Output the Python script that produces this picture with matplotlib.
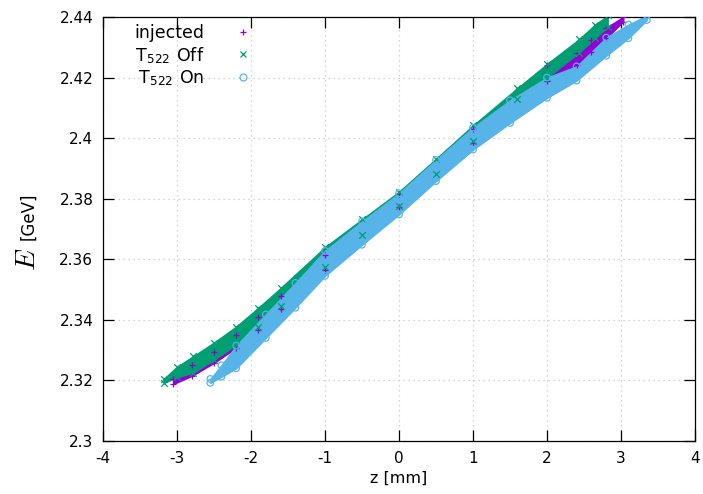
import matplotlib
matplotlib.use("Agg")
import matplotlib.pyplot as plt
from matplotlib.lines import Line2D

plt.rcParams['mathtext.fontset'] = 'cm'
plt.rcParams['font.family'] = ['DejaVu Sans']

# ---- data: band edges (z in mm, E in GeV) ----
inj_z  = [-3.05, -2.8, -2.5, -2.2, -1.9, -1.6, -1.0, 0.0, 1.0, 2.0, 2.4, 2.6, 2.8, 3.03]
inj_lo = [2.3188, 2.3215, 2.3258, 2.3308, 2.3368, 2.3435, 2.3565, 2.3772, 2.3985, 2.4190, 2.4240, 2.4285, 2.4330, 2.4385]
inj_hi = [2.3205, 2.3250, 2.3295, 2.3350, 2.3410, 2.3480, 2.3615, 2.3815, 2.4030, 2.4240, 2.4282, 2.4325, 2.4365, 2.4400]

off_z  = [-3.18, -3.0, -2.78, -2.5, -2.2, -1.9, -1.6, -1.0, -0.5, 0.0, 0.5, 1.0, 1.6, 2.0, 2.43, 2.65, 2.82]
off_lo = [2.3192, 2.3210, 2.3226, 2.3268, 2.3318, 2.3378, 2.3445, 2.3575, 2.3680, 2.3775, 2.3880, 2.3990, 2.4130, 2.4200, 2.4282, 2.4330, 2.4368]
off_hi = [2.3205, 2.3245, 2.3280, 2.3325, 2.3378, 2.3440, 2.3505, 2.3640, 2.3732, 2.3823, 2.3932, 2.4042, 2.4165, 2.4245, 2.4326, 2.4375, 2.4405]

on_z  = [-2.55, -2.4, -2.2, -1.8, -1.4, -1.0, -0.5, 0.0, 0.5, 1.0, 1.5, 2.0, 2.4, 2.8, 3.1, 3.35]
on_lo = [2.3192, 2.3212, 2.3240, 2.3340, 2.3440, 2.3545, 2.3648, 2.3748, 2.3858, 2.3962, 2.4050, 2.4133, 2.4190, 2.4272, 2.4330, 2.4390]
on_hi = [2.3205, 2.3250, 2.3315, 2.3418, 2.3522, 2.3628, 2.3725, 2.3818, 2.3928, 2.4035, 2.4125, 2.4200, 2.4237, 2.4332, 2.4375, 2.4405]

labels = ["injected", r"T$_{\mathregular{522}}$ Off", r"T$_{\mathregular{522}}$ On"]
colors = ["#9400D3", "#009E73", "#56B4E9"]
markers = ["+", "x", "o"]

xticks = [-4, -3, -2, -1, 0, 1, 2, 3, 4]
yticks = [2.3, 2.32, 2.34, 2.36, 2.38, 2.4, 2.42, 2.44]
ytick_labels = ["2.3", "2.32", "2.34", "2.36", "2.38", "2.4", "2.42", "2.44"]

fig = plt.figure(figsize=(7.03, 4.94), dpi=100)
ax = fig.add_axes([103/703, 53/494, (695-103)/703, (441-17)/494])

series = [(inj_z, inj_lo, inj_hi), (off_z, off_lo, off_hi), (on_z, on_lo, on_hi)]
for (z, lo, hi), c, m in zip(series, colors, markers):
    ax.fill_between(z, lo, hi, color=c, lw=1.0, ec=c, zorder=2)
    if m == "o":
        ax.scatter(z + z, lo + hi, s=22, marker=m, facecolors="none", edgecolors=c, lw=0.9, zorder=3)
    else:
        ax.scatter(z + z, lo + hi, s=22, marker=m, color=c, lw=0.9, zorder=3)

ax.set_xlim(-4, 4)
ax.set_ylim(2.3, 2.44)
ax.set_xticks(xticks)
ax.set_xticklabels([str(t) for t in xticks])
ax.set_yticks(yticks)
ax.set_yticklabels(ytick_labels)
ax.tick_params(direction="in", length=8, width=0.9, top=True, right=True,
               labelsize=11, colors="black", pad=7)
ax.grid(True, color="#c8c8c8", linestyle=(0, (1, 3)), linewidth=0.9, zorder=0)
ax.set_axisbelow(True)
for s in ax.spines.values():
    s.set_linewidth(0.9)

ax.set_xlabel("z [mm]", fontsize=11.5, labelpad=4)
fig.text(27/703, 1 - 259/494, "$E$", rotation=90, fontsize=20, ha="center", va="center")
fig.text(28/703, 1 - 216/494, "[GeV]", rotation=90, fontsize=12, ha="center", va="center")

handles = [Line2D([], [], ls="none", marker=m, color=c, markersize=5,
                  markerfacecolor="none" if m == "o" else c, markeredgewidth=0.9)
           for m, c in zip(markers, colors)]
ax.legend(handles, labels, loc="upper left", bbox_to_anchor=(0.027, 1.02),
          markerfirst=False, frameon=False, fontsize=12.5, handlelength=1.2,
          handletextpad=1.6, labelspacing=0.14, borderpad=0.4)

fig.savefig("out.png", dpi=100)
